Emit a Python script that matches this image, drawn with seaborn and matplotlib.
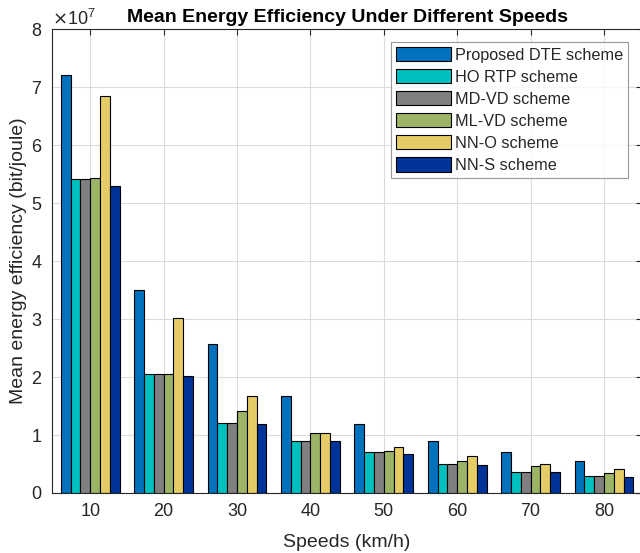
import pandas as pd
import matplotlib.pyplot as plt
import matplotlib.ticker as mticker
import seaborn as sns

# Podaci ocitani sa slike (bit/joule)
speeds = [10, 20, 30, 40, 50, 60, 70, 80]
schemes = ["Proposed DTE scheme", "HO RTP scheme", "MD-VD scheme",
           "ML-VD scheme", "NN-O scheme", "NN-S scheme"]
dte = [7.20e7, 3.50e7, 2.57e7, 1.67e7, 1.19e7, 0.90e7, 0.70e7, 0.56e7]
ho_rtp = [5.42e7, 2.05e7, 1.20e7, 0.90e7, 0.70e7, 0.505e7, 0.37e7, 0.30e7]
md_vd = [5.42e7, 2.05e7, 1.20e7, 0.90e7, 0.70e7, 0.505e7, 0.37e7, 0.30e7]
ml_vd = [5.44e7, 2.05e7, 1.41e7, 1.04e7, 0.72e7, 0.56e7, 0.46e7, 0.34e7]
nn_o = [6.85e7, 3.01e7, 1.67e7, 1.03e7, 0.79e7, 0.63e7, 0.505e7, 0.41e7]
nn_s = [5.30e7, 2.02e7, 1.19e7, 0.89e7, 0.68e7, 0.49e7, 0.37e7, 0.28e7]

colors = ["#0072BD", "#00BFBF", "#808080", "#9BB466", "#E6CC66", "#003399"]

rows = []
for name, vals in zip(schemes, [dte, ho_rtp, md_vd, ml_vd, nn_o, nn_s]):
    for s, v in zip(speeds, vals):
        rows.append({"Speed": s, "Scheme": name, "Value": v})
df = pd.DataFrame(rows)

sns.set_style("white")
plt.rcParams["font.family"] = ["Liberation Sans", "DejaVu Sans"]

fig = plt.figure(figsize=(6.4, 5.53), dpi=100)
ax = fig.add_axes([0.0813, 0.1085, 0.922, 0.839])

sns.barplot(data=df, x="Speed", y="Value", hue="Scheme", hue_order=schemes,
            palette=colors, width=0.8, gap=0, edgecolor="black",
            linewidth=0.8, saturation=1, ax=ax)

ax.set_ylim(0, 8e7)
ax.set_xlim(-0.52, 7.52)
ax.set_yticks([i * 1e7 for i in range(9)])
fmt = mticker.ScalarFormatter(useMathText=True)
fmt.set_powerlimits((0, 0))
ax.yaxis.set_major_formatter(fmt)
ax.yaxis.get_offset_text().set_fontsize(13)
ax.yaxis.get_offset_text().set_color("#262626")

ax.set_axisbelow(True)
ax.grid(True, color="#DCDCDC", linewidth=0.8)
for sp in ax.spines.values():
    sp.set_color("#262626")
    sp.set_linewidth(0.8)
ax.tick_params(direction="in", length=4, color="#262626", labelsize=13,
               labelcolor="#262626", top=True, right=True, pad=7)

ax.set_title("Mean Energy Efficiency Under Different Speeds",
             fontsize=14, fontweight="bold", color="black", pad=5)
ax.set_xlabel("Speeds (km/h)", fontsize=14, color="#262626", labelpad=10)
ax.set_ylabel("Mean energy efficiency (bit/joule)", fontsize=14,
              color="#262626", labelpad=3)

leg = ax.legend(loc="upper right", bbox_to_anchor=(0.976, 0.972),
                fontsize=11.7, frameon=True, fancybox=False, edgecolor="#808080",
                handlelength=3.4, handleheight=1.0, labelspacing=0.38,
                handletextpad=0.25, borderpad=0.3, borderaxespad=0)
leg.get_frame().set_linewidth(0.8)

fig.savefig("out.png", dpi=100)
